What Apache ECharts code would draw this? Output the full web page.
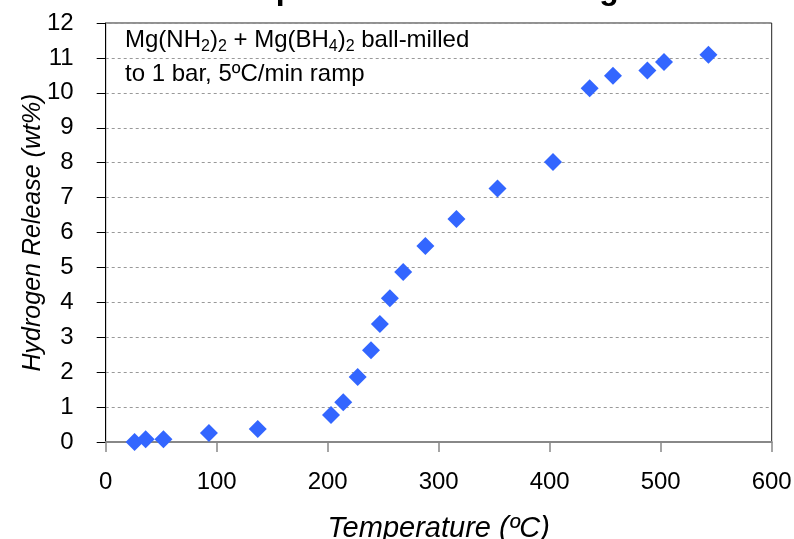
<!DOCTYPE html>
<html>
<head>
	<meta charset="utf-8">
	<title>Hydrogen release</title>
	<script src="https://cdn.jsdelivr.net/npm/echarts@6/dist/echarts.min.js"></script>
	<style>
		html,body{margin:0;padding:0;background:#fff;}
		#main{width:794px;height:539px;}
	</style>
</head>
<body>
<div id="main"></div>
<script type="text/javascript">
	// temperature (C) and hydrogen release (wt%)
	var temps=[26,36,52,93,137,203,214,227,239,247,256,268,288,316,353,403,436,457,488,503,543];
	var release=[0.0,0.08,0.08,0.26,0.37,0.77,1.14,1.86,2.63,3.38,4.12,4.87,5.61,6.39,7.26,8.02,10.13,10.49,10.64,10.88,11.09];
	var xTicks=[0,100,200,300,400,500,600];
	var yTicks=[0,1,2,3,4,5,6,7,8,9,10,11,12];

	var font='"Liberation Sans", Arial, sans-serif';
	var myChart=echarts.init(document.getElementById('main'));

	var points=[];
	for(var i=0;i<temps.length;i++){
		points.push([temps[i],release[i]]);
	}

	var option={
		backgroundColor:'#fff',
		animation:false,
		grid:{
			left:105.7,
			right:22.3,
			top:23,
			bottom:97,
			outerBoundsMode:'none',
			containLabel:false,
			show:true,
			borderColor:'#222',
			borderWidth:1
		},
		graphic:[{
			type:'text',
			left:185,
			top:-26,
			style:{
				text:'Desorption of Ball-milled Mg-B-N-H',
				font:'bold 32px '+font,
				fill:'#000'
			}
		},{
			type:'text',
			left:125,
			top:28,
			style:{
				text:'{a|Mg(NH}{s|2}{a|)}{s|2}{a| + Mg(BH}{s|4}{a|)}{s|2}{a| ball-milled}',
				rich:{
					a:{fontSize:24,fontFamily:font,fill:'#000',lineHeight:30,verticalAlign:'middle'},
					s:{fontSize:16,fontFamily:font,fill:'#000',lineHeight:16,verticalAlign:'bottom'}
				}
			}
		},{
			type:'text',
			left:125,
			top:62,
			style:{
				text:'to 1 bar, 5ºC/min ramp',
				fontSize:24,
				fontFamily:font,
				fill:'#000'
			}
		}],
		xAxis:{
			type:'value',
			min:xTicks[0],
			max:xTicks[xTicks.length-1],
			interval:100,
			name:'Temperature (ºC)',
			nameLocation:'middle',
			nameGap:72,
			nameMoveOverlap:false,
			nameTextStyle:{fontSize:29,fontStyle:'italic',fontFamily:font,color:'#000'},
			axisLine:{lineStyle:{color:'#888',width:2}},
			axisTick:{show:true,inside:false,length:10,lineStyle:{color:'#888',width:1.5}},
			axisLabel:{fontSize:24,fontFamily:font,color:'#000',margin:28},
			splitLine:{show:false}
		},
		yAxis:{
			type:'value',
			min:yTicks[0],
			max:yTicks[yTicks.length-1],
			interval:1,
			name:'Hydrogen Release (wt%)',
			nameLocation:'middle',
			nameGap:60,
			nameMoveOverlap:false,
			nameTextStyle:{fontSize:25,fontStyle:'italic',fontFamily:font,color:'#000'},
			axisLine:{show:true,lineStyle:{color:'#000',width:1}},
			axisTick:{show:true,inside:false,length:9,lineStyle:{color:'#000'}},
			axisLabel:{fontSize:24,fontFamily:font,color:'#000',margin:32},
			splitLine:{show:true,lineStyle:{color:'#999',type:[3,3],width:1}}
		},
		series:[{
			name:'H2 release',
			type:'scatter',
			data:points,
			symbol:'diamond',
			symbolSize:18,
			itemStyle:{color:'#3366ff',opacity:1}
		}]
	};
	myChart.setOption(option);
</script>
</body>
</html>
